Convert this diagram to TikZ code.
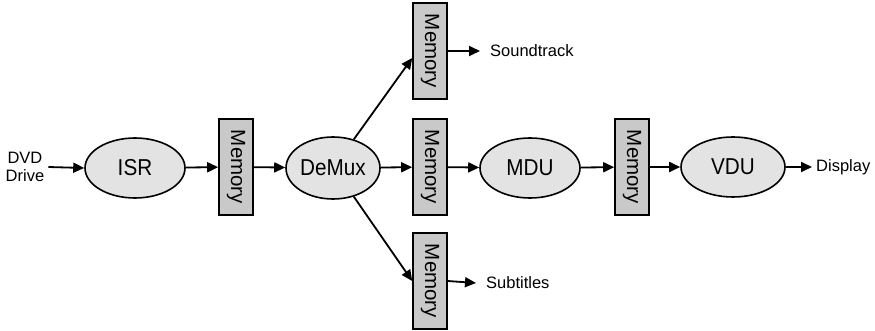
\documentclass[tikz,border=0pt]{standalone}
\usepackage{fontspec}
\setmainfont{Liberation Sans}
\usetikzlibrary{arrows.meta,shapes.geometric,calc}
\definecolor{ellfill}{HTML}{E3E3E3}
\definecolor{memfill}{HTML}{C9C9C9}
\tikzset{
  proc/.style={ellipse,draw,line width=1.6pt,fill=ellfill,minimum width=100pt,minimum height=60pt,inner sep=0pt,font=\fontsize{23}{25}\selectfont},
  membox/.style={rectangle,draw,line width=1.6pt,fill=memfill,minimum width=34pt,minimum height=96pt,inner sep=0pt},
  memtext/.style={rotate=-90,font=\fontsize{20.5}{22}\selectfont},
  lbl/.style={font=\fontsize{16.5}{19}\selectfont,inner sep=0pt},
  arr/.style={line width=1.8pt,-{Triangle[length=11pt,width=10pt]}}
}
\newcommand{\sq}[1]{\scalebox{0.9}[1]{#1}}
\begin{document}
\begin{tikzpicture}[x=1pt,y=-1pt]
\useasboundingbox (0,0) rectangle (875,331);
\node[lbl,align=center] (dvd) at (25,167) {DVD\\[-1pt]Drive};
\node[proc] (isr) at (135,168) {\sq{ISR}};
\node[membox] (m1) at (236,167) {};
\node[memtext] at (m1) {Memory};
\node[proc,minimum width=94pt,minimum height=62pt] (demux) at (333,168) {\sq{DeMux}};
\node[membox] (mt) at (430,51) {};
\node[memtext] at (mt) {Memory};
\node[membox] (mm) at (430,167) {};
\node[memtext] at (mm) {Memory};
\node[membox] (mb) at (430,281) {};
\node[memtext] at (mb) {Memory};
\node[proc] (mdu) at (530,168) {\sq{MDU}};
\node[membox] (m4) at (632,167) {};
\node[memtext] at (m4) {Memory};
\node[proc,minimum width=104pt] (vdu) at (733,167) {\sq{VDU}};
\node[lbl,anchor=west] (disp) at (816,167) {Display};
\node[lbl,anchor=west] (snd) at (490,51) {Soundtrack};
\node[lbl,anchor=west] (sub) at (486,283) {Subtitles};
\coordinate (mtin) at ($(mt.west)+(0,7)$);
\draw[arr] (dvd.east) ++(4,0) -- (isr.west);
\draw[arr] (isr) -- (m1);
\draw[arr] (m1) -- (demux);
\draw[arr] (demux) -- (mm);
\draw[arr] (demux.54) -- (mtin);
\draw[arr] (demux.-54) -- (mb.west);
\draw[arr] (mm) -- (mdu);
\draw[arr] (mdu) -- (m4);
\draw[arr] (m4) -- (vdu);
\draw[arr] (vdu.east) -- ($(disp.west)+(-4,0)$);
\draw[arr] (mt.east) -- ($(snd.west)+(-10,0)$);
\draw[arr] (mb.east) -- ($(sub.west)+(-10,0)$);
\end{tikzpicture}
\end{document}
